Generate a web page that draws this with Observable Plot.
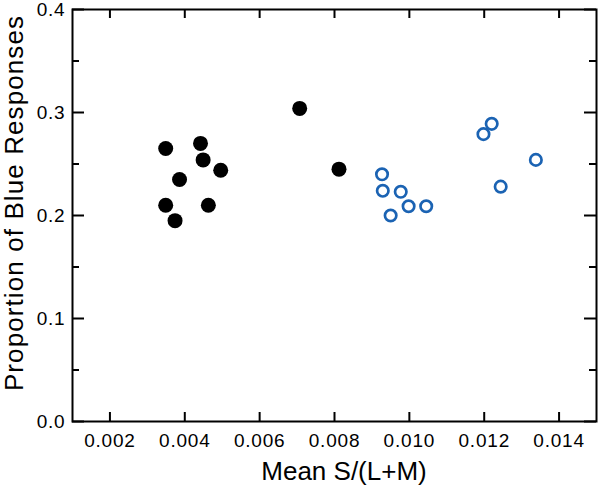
<!DOCTYPE html>
<html><head><meta charset="utf-8">
<script src="https://cdn.jsdelivr.net/npm/d3@7"></script>
<script src="https://cdn.jsdelivr.net/npm/@observablehq/plot@0.6"></script>
<style>html,body{margin:0;padding:0;background:#fff} svg{display:block}</style>
</head><body><div id="chart"></div>
<script>
// Filled (black) series
const blackX = [0.00349, 0.00442, 0.00449, 0.00496, 0.00386, 0.00349, 0.00463, 0.00374, 0.00707, 0.00812];
const blackY = [0.265, 0.270, 0.254, 0.244, 0.235, 0.210, 0.210, 0.195, 0.304, 0.245];
// Open (blue) series
const blueX = [0.00927, 0.00929, 0.00977, 0.00998, 0.01045, 0.00950, 0.01220, 0.01198, 0.01338, 0.01244];
const blueY = [0.240, 0.224, 0.223, 0.209, 0.209, 0.200, 0.289, 0.279, 0.254, 0.228];
// Ticks and labels
const xTicks = [0.002, 0.004, 0.006, 0.008, 0.010, 0.012, 0.014];
const yMajor = [0.0, 0.1, 0.2, 0.3, 0.4];
const yMinor = [0.05, 0.15, 0.25, 0.35];
const xTitle = "Mean S/(L+M)";
const yTitle = "Proportion of Blue Responses";

const W = 600, H = 488, mL = 72, mR = 4, mT = 9, mB = 67;
const pw = W - mL - mR, ph = H - mT - mB;
const black = blackX.map((x, i) => ({x, y: blackY[i]}));
const blue = blueX.map((x, i) => ({x, y: blueY[i]}));

const tk = {stroke: "#000", strokeWidth: 2};
const chart = Plot.plot({
  width: W, height: H,
  marginLeft: mL, marginRight: mR, marginTop: mT, marginBottom: mB,
  style: {fontFamily: "'Liberation Sans', Arial, Helvetica, sans-serif", fontSize: "19px", color: "#000", background: "#fff"},
  x: {domain: [0.001, 0.015]},
  y: {domain: [0, 0.4]},
  marks: [
    Plot.axisX({ticks: xTicks, tickSize: 0, tickPadding: 12, tickFormat: d3.format(".3f"), label: null, fontSize: 19}),
    Plot.axisY({ticks: yMajor, tickSize: 0, tickPadding: 7, tickFormat: d3.format(".1f"), label: null, fontSize: 19}),
    Plot.tickX(xTicks, {x: d => d, insetTop: ph - 9, ...tk}),
    Plot.tickX(xTicks, {x: d => d, insetBottom: ph - 9, ...tk}),
    Plot.tickY(yMajor, {y: d => d, insetRight: pw - 12, ...tk}),
    Plot.tickY(yMajor, {y: d => d, insetLeft: pw - 12, ...tk}),
    Plot.tickY(yMinor, {y: d => d, insetRight: pw - 7, ...tk}),
    Plot.tickY(yMinor, {y: d => d, insetLeft: pw - 7, ...tk}),
    Plot.frame({stroke: "#000", strokeWidth: 2}),
    Plot.dot(black, {x: "x", y: "y", r: 7.5, fill: "#000", stroke: "none"}),
    Plot.dot(blue, {x: "x", y: "y", r: 5.7, fill: "none", stroke: "#1b63b3", strokeWidth: 2.7}),
    Plot.text([xTitle], {text: d => d, frameAnchor: "bottom", dx: 9.5, dy: 50, lineAnchor: "middle", textAnchor: "middle", fontSize: 26, fill: "#000"}),
    Plot.text([yTitle], {text: d => d, frameAnchor: "left", rotate: -90, dx: -57.5, dy: -12.5, lineAnchor: "middle", textAnchor: "middle", fontSize: 26, fill: "#000"})
  ]
});
chart.querySelectorAll('[aria-label="x-axis tick label"] text, [aria-label="y-axis tick label"] text').forEach(t => t.setAttribute("letter-spacing", "0.8"));
chart.querySelectorAll('text').forEach(t => { if (t.textContent === yTitle) t.setAttribute("letter-spacing", "1.1"); });
document.getElementById("chart").appendChild(chart);
</script>
</body></html>
